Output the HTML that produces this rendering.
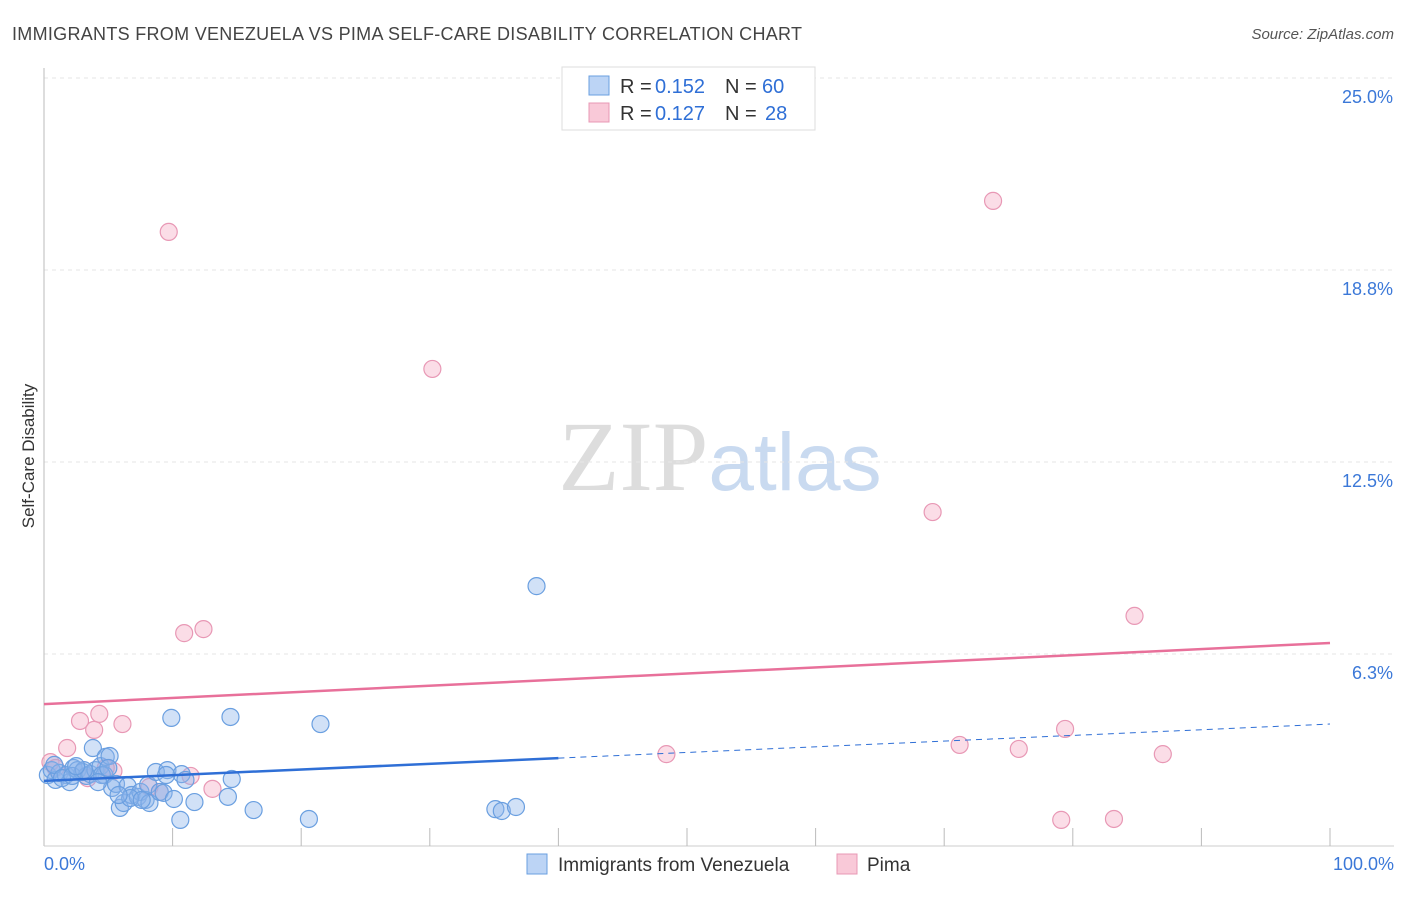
<!DOCTYPE html>
<html><head><meta charset="utf-8"><style>
body{margin:0;background:#fff;font-family:"Liberation Sans",sans-serif}
svg text{font-family:"Liberation Sans",sans-serif}
</style></head><body>
<svg id="chart" width="1406" height="892" xmlns="http://www.w3.org/2000/svg">
<text x="12" y="40" font-size="18" fill="#444" textLength="790">IMMIGRANTS FROM VENEZUELA VS PIMA SELF-CARE DISABILITY CORRELATION CHART</text>
<text x="1394" y="39" font-size="15" fill="#555" text-anchor="end" font-style="italic">Source: ZipAtlas.com</text>
<text transform="translate(34,456) rotate(-90)" font-size="17" fill="#333" text-anchor="middle">Self-Care Disability</text>
<text x="720" y="490" font-size="100" text-anchor="middle"><tspan font-family="Liberation Serif" fill="#ddd">ZIP</tspan><tspan fill="#c9daf0" font-size="82">atlas</tspan></text>
<g id="grid"></g><g id="marks"></g>
<g>
<rect x="562" y="67" width="253" height="63" fill="#fff" stroke="#ddd"/>
<rect x="589" y="76" width="20" height="19" fill="#bcd4f5" stroke="#6a9fe0"/>
<rect x="589" y="103" width="20" height="19" fill="#f9c9d8" stroke="#e898b5"/>
<text x="620" y="93" font-size="20" fill="#333">R =</text>
<text x="655" y="93" font-size="20" fill="#2f6fd6">0.152</text>
<text x="725" y="93" font-size="20" fill="#333">N =</text>
<text x="762" y="93" font-size="20" fill="#2f6fd6">60</text>
<text x="620" y="120" font-size="20" fill="#333">R =</text>
<text x="655" y="120" font-size="20" fill="#2f6fd6">0.127</text>
<text x="725" y="120" font-size="20" fill="#333">N =</text>
<text x="765" y="120" font-size="20" fill="#2f6fd6">28</text>
</g>
<g>
<rect x="527" y="854" width="20" height="20" fill="#bcd4f5" stroke="#6a9fe0"/>
<text x="558" y="871" font-size="19" fill="#333">Immigrants from Venezuela</text>
<rect x="837" y="854" width="20" height="20" fill="#f9c9d8" stroke="#e898b5"/>
<text x="867" y="871" font-size="19" fill="#333">Pima</text>
</g>
</svg>
<script>
const yTicks=[25,18.75,12.5,6.25];
const yTickLabels=["25.0%","18.8%","12.5%","6.3%"];
const blueX=[0.3,0.6,0.9,1.2,1.7,2.0,2.3,2.6,3.0,3.3,3.6,3.8,4.0,4.4,4.7,4.8,5.1,5.3,5.6,5.9,6.2,6.5,6.8,7.3,7.5,7.9,8.2,8.1,8.7,9.0,9.3,9.6,9.9,10.1,10.6,10.7,11.0,11.7,14.3,14.5,14.6,16.3,20.6,21.5,35.1,35.6,36.7,38.3,0.8,1.4,2.2,3.1,4.5,5.0,4.2,6.7,7.6,9.5,5.8,2.5];
const blueY=[2.31,2.47,2.15,2.38,2.31,2.08,2.54,2.47,2.41,2.28,2.34,3.19,2.47,2.60,2.31,2.90,2.93,1.89,2.02,1.24,1.40,1.95,1.66,1.60,1.76,1.50,1.40,1.99,2.41,1.76,1.73,2.47,4.17,1.53,0.85,2.34,2.15,1.43,1.60,4.20,2.18,1.17,0.88,3.97,1.20,1.14,1.27,8.46,2.64,2.21,2.28,2.47,2.31,2.54,2.08,1.56,1.50,2.31,1.66,2.60];
const pinkX=[9.7,73.8,30.2,69.1,84.8,10.9,12.4,2.8,4.3,6.1,3.9,1.8,79.4,71.2,75.8,48.4,87.0,79.1,83.2,13.1,11.4,5.4,8.2,9.0,0.5,0.9,3.4,4.8];
const pinkY=[19.99,21.0,15.53,10.87,7.49,6.93,7.06,4.07,4.30,3.97,3.78,3.19,3.81,3.29,3.16,2.99,2.99,0.85,0.88,1.86,2.28,2.44,1.92,1.76,2.73,2.54,2.21,2.54];
const blueTrend=[2.12,3.97];
const pinkTrend=[4.62,6.61];
const NS="http://www.w3.org/2000/svg";
const X=v=>44+v*12.86, Y=v=>846-v*30.72;
function mk(t,a,p){const e=document.createElementNS(NS,t);for(const k in a)e.setAttribute(k,a[k]);p.appendChild(e);return e;}
const g=document.getElementById('grid'), m=document.getElementById('marks');
yTicks.forEach((t,i)=>{
 const l=mk('line',{x1:44,x2:1394,y1:Y(t),y2:Y(t),stroke:'#e6e6e6','stroke-dasharray':'4,4'},g);
 
 
 const tx=mk('text',{x:1393,y:Y(t)+25,'font-size':18,fill:'#3b78d8','text-anchor':'end'},g);
 tx.textContent=yTickLabels[i];
 
 
});
const ax=mk('line',{x1:44,x2:44,y1:68,y2:846,stroke:'#bbb'},g);


const bx=mk('line',{x1:44,x2:1394,y1:846,y2:846,stroke:'#ccc'},g);


for(let i=1;i<=10;i++){const t=mk('line',{x1:X(i*10),x2:X(i*10),y1:828,y2:846,stroke:'#bbb'},g);
 
 }
[["0.0%",44,'start'],["100.0%",1394,'end']].forEach(d=>{const t=mk('text',{x:d[1],y:870,'font-size':18,fill:'#3b78d8','text-anchor':d[2]},g);t.textContent=d[0];
 
 });
pinkX.forEach((x,i)=>{const c=mk('circle',{cx:X(x),cy:Y(pinkY[i]),r:8.5,fill:'rgba(245,170,195,0.4)',stroke:'#e898b5','stroke-width':1.2},m);
 
 });
blueX.forEach((x,i)=>{const c=mk('circle',{cx:X(x),cy:Y(blueY[i]),r:8.5,fill:'rgba(140,180,235,0.4)',stroke:'#6a9fe0','stroke-width':1.2},m);
 
 });
const bAt=v=>blueTrend[0]+(blueTrend[1]-blueTrend[0])*v/100;
let l1=mk('line',{x1:X(0),y1:Y(bAt(0)),x2:X(40),y2:Y(bAt(40)),stroke:'#2f6fd6','stroke-width':2.5},m);


let l2=mk('line',{x1:X(40),y1:Y(bAt(40)),x2:X(100),y2:Y(bAt(100)),stroke:'#2f6fd6','stroke-width':1,'stroke-dasharray':'6,5'},m);


let l3=mk('line',{x1:X(0),y1:Y(pinkTrend[0]),x2:X(100),y2:Y(pinkTrend[1]),stroke:'#e8709a','stroke-width':2.5},m);


</script>
</body></html>
